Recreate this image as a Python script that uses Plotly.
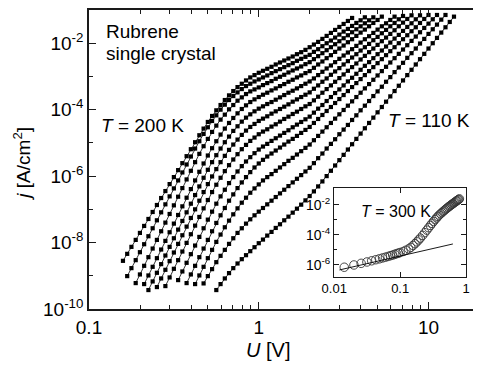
import plotly.graph_objects as go

# ---------------- data ----------------
# applied voltage grid (V), measurement points
U_grid = [0.1585, 0.1679, 0.1778, 0.1884, 0.1995, 0.2113, 0.2239, 0.2371, 0.2512, 0.2661,
          0.2818, 0.2985, 0.3162, 0.3350, 0.3548, 0.3758, 0.3981, 0.4217, 0.4467, 0.4732,
          0.5012, 0.5309, 0.5623, 0.5957, 0.6310, 0.6683, 0.7079, 0.7499, 0.7943, 0.8414,
          0.8913, 0.9441, 1.000, 1.059, 1.122, 1.189, 1.259, 1.334, 1.413, 1.496,
          1.585, 1.679, 1.778, 1.884, 1.995, 2.113, 2.239, 2.371, 2.512, 2.661,
          2.818, 2.985, 3.162, 3.350, 3.548, 3.758, 3.981, 4.217, 4.467, 4.732,
          5.012, 5.309, 5.623, 5.957, 6.310, 6.683, 7.079, 7.499, 7.943, 8.414,
          8.913, 9.441, 10.00, 10.59, 11.22, 11.89, 12.59, 13.34, 14.13, 14.96]

curve_names = ["200 K", "190 K", "180 K", "170 K", "160 K", "150 K",
               "145 K", "140 K", "130 K", "125 K", "120 K", "110 K"]
start_index = [0, 1, 3, 5, 6, 8, 10, 13, 15, 17, 19, 22]

# log10 of current density j [A/cm^2], one list per temperature (200 K ... 110 K)
log10_j_c1 = [-8.55, -8.34, -8.13, -7.92, -7.71, -7.50, -7.29, -7.08, -6.87, -6.66, -6.45, -6.24, -6.03, -5.82,
              -5.61, -5.40, -5.19, -4.98, -4.77, -4.57, -4.37, -4.19, -4.02, -3.86, -3.71, -3.57, -3.44, -3.32,
              -3.22, -3.12, -3.03, -2.96, -2.89, -2.83, -2.77, -2.71, -2.64, -2.58, -2.52, -2.46, -2.40, -2.33,
              -2.27, -2.20, -2.12, -2.04, -1.96, -1.87, -1.78, -1.69, -1.60, -1.51, -1.42, -1.33, -1.24]
log10_j_c2 = [-9.01, -8.77, -8.53, -8.29, -8.05, -7.81, -7.57, -7.33, -7.09, -6.85, -6.61, -6.37, -6.13, -5.89,
              -5.65, -5.41, -5.17, -4.95, -4.73, -4.53, -4.34, -4.17, -4.00, -3.85, -3.71, -3.59, -3.48, -3.38,
              -3.29, -3.22, -3.15, -3.09, -3.03, -2.97, -2.90, -2.84, -2.78, -2.72, -2.66, -2.60, -2.53, -2.47,
              -2.41, -2.35, -2.26, -2.18, -2.09, -2.00, -1.92, -1.83, -1.74, -1.65, -1.57, -1.48, -1.39, -1.31, -1.22]
log10_j_c3 = [-9.22, -8.96, -8.70, -8.44, -8.18, -7.92, -7.66, -7.40, -7.14, -6.88, -6.62, -6.36, -6.10, -5.84,
              -5.58, -5.33, -5.10, -4.88, -4.67, -4.48, -4.30, -4.15, -3.99, -3.86, -3.73, -3.63, -3.53, -3.45,
              -3.39, -3.33, -3.26, -3.20, -3.14, -3.07, -3.01, -2.95, -2.88, -2.82, -2.76, -2.70, -2.63, -2.57,
              -2.48, -2.39, -2.30, -2.21, -2.12, -2.03, -1.94, -1.85, -1.76, -1.67, -1.58, -1.49, -1.40, -1.31, -1.22]
log10_j_c4 = [-9.25, -8.99, -8.73, -8.47, -8.21, -7.95, -7.69, -7.43, -7.17, -6.91, -6.65, -6.39, -6.13, -5.87,
              -5.62, -5.38, -5.16, -4.95, -4.75, -4.57, -4.40, -4.25, -4.11, -3.98, -3.87, -3.77, -3.69, -3.62,
              -3.55, -3.49, -3.42, -3.36, -3.29, -3.23, -3.16, -3.10, -3.03, -2.97, -2.90, -2.84, -2.74, -2.64,
              -2.55, -2.45, -2.36, -2.26, -2.16, -2.07, -1.97, -1.88, -1.78, -1.68, -1.59, -1.49, -1.39, -1.30, -1.20]
log10_j_c5 = [-9.43, -9.17, -8.91, -8.65, -8.39, -8.13, -7.87, -7.61, -7.35, -7.09, -6.83, -6.57, -6.31, -6.05,
              -5.81, -5.58, -5.37, -5.17, -4.98, -4.81, -4.64, -4.50, -4.36, -4.24, -4.14, -4.05, -3.97, -3.90,
              -3.83, -3.77, -3.70, -3.63, -3.56, -3.49, -3.43, -3.36, -3.29, -3.22, -3.15, -3.06, -2.96, -2.86,
              -2.76, -2.67, -2.57, -2.47, -2.37, -2.28, -2.18, -2.08, -1.98, -1.88, -1.79, -1.69, -1.59, -1.49,
              -1.40, -1.30, -1.20]
log10_j_c6 = [-9.34, -9.08, -8.82, -8.56, -8.30, -8.04, -7.78, -7.52, -7.26, -7.00, -6.74, -6.48, -6.24, -6.01,
              -5.79, -5.58, -5.39, -5.21, -5.05, -4.90, -4.76, -4.63, -4.52, -4.43, -4.34, -4.27, -4.20, -4.12,
              -4.05, -3.98, -3.91, -3.84, -3.76, -3.69, -3.62, -3.55, -3.48, -3.37, -3.27, -3.16, -3.06, -2.95,
              -2.85, -2.75, -2.64, -2.54, -2.43, -2.33, -2.22, -2.12, -2.02, -1.91, -1.81, -1.70, -1.60, -1.49,
              -1.39, -1.28, -1.18]
log10_j_c7 = [-9.31, -9.05, -8.79, -8.53, -8.27, -8.01, -7.75, -7.49, -7.23, -6.97, -6.72, -6.48, -6.26, -6.05,
              -5.85, -5.67, -5.50, -5.34, -5.19, -5.06, -4.94, -4.84, -4.74, -4.66, -4.59, -4.51, -4.44, -4.36,
              -4.28, -4.21, -4.13, -4.06, -3.98, -3.90, -3.83, -3.72, -3.61, -3.49, -3.38, -3.27, -3.16, -3.05,
              -2.94, -2.83, -2.72, -2.61, -2.49, -2.38, -2.27, -2.16, -2.05, -1.94, -1.83, -1.72, -1.61, -1.49,
              -1.38, -1.27, -1.16]
log10_j_c8 = [-9.13, -8.87, -8.61, -8.35, -8.09, -7.83, -7.57, -7.31, -7.07, -6.83, -6.61, -6.41, -6.21, -6.03,
              -5.86, -5.70, -5.56, -5.43, -5.31, -5.20, -5.11, -5.03, -4.94, -4.86, -4.78, -4.70, -4.62, -4.53,
              -4.45, -4.37, -4.29, -4.21, -4.09, -3.97, -3.86, -3.74, -3.62, -3.50, -3.39, -3.27, -3.15, -3.04,
              -2.92, -2.80, -2.68, -2.57, -2.45, -2.33, -2.22, -2.10, -1.98, -1.86, -1.75, -1.63, -1.51, -1.40,
              -1.28, -1.16]
log10_j_c9 = [-9.22, -8.96, -8.70, -8.44, -8.18, -7.92, -7.66, -7.41, -7.18, -6.96, -6.74, -6.55, -6.36, -6.19,
              -6.03, -5.88, -5.74, -5.62, -5.51, -5.41, -5.32, -5.23, -5.14, -5.05, -4.96, -4.88, -4.79, -4.70,
              -4.61, -4.52, -4.40, -4.28, -4.16, -4.04, -3.92, -3.80, -3.68, -3.56, -3.44, -3.32, -3.20, -3.08,
              -2.96, -2.84, -2.72, -2.60, -2.48, -2.36, -2.24, -2.12, -2.00, -1.88, -1.76, -1.64, -1.52, -1.39,
              -1.27, -1.15]
log10_j_c10 = [-9.25, -8.99, -8.73, -8.47, -8.22, -7.98, -7.76, -7.54, -7.34, -7.15, -6.97, -6.80, -6.65, -6.50,
               -6.37, -6.25, -6.13, -6.03, -5.94, -5.84, -5.74, -5.64, -5.54, -5.45, -5.35, -5.25, -5.15, -5.05,
               -4.92, -4.79, -4.66, -4.53, -4.40, -4.27, -4.14, -4.01, -3.88, -3.75, -3.62, -3.49, -3.36, -3.23,
               -3.10, -2.97, -2.84, -2.71, -2.58, -2.45, -2.32, -2.19, -2.06, -1.93, -1.80, -1.67, -1.54, -1.41,
               -1.28, -1.15]
log10_j_c11 = [-9.23, -9.01, -8.80, -8.59, -8.40, -8.22, -8.04, -7.87, -7.71, -7.57, -7.43, -7.30, -7.18, -7.07,
               -6.96, -6.85, -6.74, -6.63, -6.52, -6.41, -6.30, -6.19, -6.08, -5.97, -5.86, -5.75, -5.61, -5.46,
               -5.32, -5.17, -5.03, -4.89, -4.74, -4.60, -4.46, -4.31, -4.17, -4.02, -3.88, -3.74, -3.59, -3.45,
               -3.31, -3.16, -3.02, -2.87, -2.73, -2.59, -2.44, -2.30, -2.16, -2.01, -1.87, -1.72, -1.58, -1.44,
               -1.29, -1.15]
log10_j_c12 = [-9.43, -9.25, -9.08, -8.92, -8.77, -8.63, -8.50, -8.38, -8.26, -8.14, -8.02, -7.91, -7.79, -7.68,
               -7.56, -7.45, -7.33, -7.22, -7.10, -6.98, -6.86, -6.73, -6.60, -6.46, -6.31, -6.16, -6.00, -5.84,
               -5.68, -5.52, -5.36, -5.20, -5.04, -4.88, -4.72, -4.56, -4.40, -4.24, -4.08, -3.92, -3.76, -3.60,
               -3.44, -3.28, -3.12, -2.96, -2.80, -2.64, -2.48, -2.32, -2.16, -2.00, -1.84, -1.68, -1.52, -1.36, -1.20]

curves = [log10_j_c1, log10_j_c2, log10_j_c3, log10_j_c4, log10_j_c5, log10_j_c6,
          log10_j_c7, log10_j_c8, log10_j_c9, log10_j_c10, log10_j_c11, log10_j_c12]

# inset: T = 300 K
U_300K = [0.0142, 0.0199, 0.0256, 0.0313, 0.0370, 0.0427, 0.0484, 0.0541, 0.0598, 0.0655, 0.0712, 0.0769,
          0.0826, 0.0883, 0.0940, 0.0997, 0.111, 0.122, 0.134, 0.145, 0.157, 0.168, 0.179, 0.191, 0.202,
          0.219, 0.236, 0.253, 0.270, 0.287, 0.304, 0.321, 0.338, 0.356, 0.373, 0.390, 0.410, 0.430, 0.450,
          0.470, 0.490, 0.510, 0.530, 0.550, 0.570, 0.590, 0.610, 0.630, 0.650, 0.670, 0.690, 0.710, 0.730,
          0.750, 0.770, 0.790]
log10_j_300K = [-6.15, -6.00, -5.89, -5.80, -5.72, -5.65, -5.59, -5.53, -5.48, -5.43, -5.38, -5.34,
                -5.29, -5.25, -5.21, -5.17, -5.10, -5.02, -4.93, -4.83, -4.70, -4.58, -4.46, -4.33, -4.21,
                -4.03, -3.85, -3.68, -3.52, -3.37, -3.23, -3.10, -2.98, -2.87, -2.77, -2.68, -2.59, -2.51, -2.43,
                -2.36, -2.29, -2.23, -2.17, -2.11, -2.06, -2.01, -1.96, -1.92, -1.87, -1.83, -1.79, -1.75, -1.71,
                -1.67, -1.64, -1.60]
U_fit_300K = [0.012, 0.63]
log10_j_fit_300K = [-6.33, -4.60]

# tick labels
x_ticks = [0.1, 1, 10]
x_ticktext = ["0.1", "1", "10"]
x_minor = [0.2, 0.3, 0.4, 0.5, 0.6, 0.7, 0.8, 0.9, 2, 3, 4, 5, 6, 7, 8, 9]
y_ticks = [1e-10, 1e-8, 1e-6, 1e-4, 1e-2]
y_ticktext = ["10<sup>-10</sup>", "10<sup>-8</sup>", "10<sup>-6</sup>", "10<sup>-4</sup>", "10<sup>-2</sup>"]
y_minor = [1e-9, 1e-7, 1e-5, 1e-3]
inset_x_ticks = [0.01, 0.1, 1]
inset_x_ticktext = ["0.01", "0.1", "1"]
inset_y_ticks = [1e-6, 1e-4, 1e-2]
inset_y_ticktext = ["10<sup>-6</sup>", "10<sup>-4</sup>", "10<sup>-2</sup>"]
inset_y_minor = [1e-5, 1e-3]

# ---------------- figure ----------------
FONT = "Liberation Sans, Arial, Helvetica, sans-serif"
AX = "#1a1a1a"
# the page body has an 8 px margin, so the figure is sized to end at the window edge
PAGE_OFFSET = 8

fig = go.Figure()
for name, s, lj in zip(curve_names, start_index, curves):
    U = U_grid[s:s + len(lj)]
    fig.add_trace(go.Scatter(
        x=U, y=[10 ** v for v in lj], mode="lines+markers", name=name,
        line=dict(color="black", width=0.8),
        marker=dict(symbol="square", size=4.2, color="black", line=dict(width=0)),
        showlegend=False, hoverinfo="skip"))

fig.add_trace(go.Scatter(
    x=U_300K, y=[10 ** v for v in log10_j_300K], xaxis="x3", yaxis="y3", mode="markers",
    marker=dict(symbol="circle-open", size=8.5, color="#333", line=dict(width=0.9)),
    showlegend=False, hoverinfo="skip"))
fig.add_trace(go.Scatter(
    x=U_fit_300K, y=[10 ** v for v in log10_j_fit_300K], xaxis="x3", yaxis="y3", mode="lines",
    line=dict(color="black", width=0.9), showlegend=False, hoverinfo="skip"))

main_tick = dict(ticks="inside", tickcolor=AX, tickwidth=1.3, showgrid=False, zeroline=False)

fig.update_layout(
    width=481 - PAGE_OFFSET, height=365 - PAGE_OFFSET,
    margin=dict(l=89 - PAGE_OFFSET, r=0, t=10 - PAGE_OFFSET, b=365 - 309),
    paper_bgcolor="white", plot_bgcolor="white",
    showlegend=False,
    font=dict(family=FONT, size=19, color="black"),
    xaxis=dict(type="log", range=[-1, 1.2857], domain=[0, 1], anchor="y",
               showline=True, linecolor=AX, linewidth=1.6, mirror="allticks",
               tickmode="array", tickvals=x_ticks, ticktext=x_ticktext, ticklen=7,
               tickfont=dict(size=19, family=FONT, color="black"),
               minor=dict(tickmode="array", tickvals=x_minor, ticks="inside", ticklen=4,
                          tickwidth=1.2, tickcolor=AX, showgrid=False),
               **main_tick),
    yaxis=dict(type="log", range=[-10, -1], domain=[0, 1], anchor="x",
               showline=True, linecolor=AX, linewidth=1.6, mirror=False,
               tickmode="array", tickvals=y_ticks, ticktext=y_ticktext, ticklen=7,
               tickfont=dict(size=19, family=FONT, color="black"),
               minor=dict(tickmode="array", tickvals=y_minor, ticks="inside", ticklen=4,
                          tickwidth=1.2, tickcolor=AX, showgrid=False),
               **main_tick),
    yaxis2=dict(type="log", range=[-10, -1], overlaying="y", side="right", anchor="x",
                showline=False, showticklabels=False,
                tickmode="array", tickvals=y_ticks, ticklen=7,
                minor=dict(tickmode="array", tickvals=y_minor, ticks="inside", ticklen=4,
                           tickwidth=1.2, tickcolor=AX, showgrid=False),
                **main_tick),
    xaxis3=dict(type="log", range=[-2, 0], domain=[0.632, 0.972], anchor="y3",
                showline=True, linecolor=AX, linewidth=1.2, mirror="allticks",
                tickmode="array", tickvals=inset_x_ticks, ticktext=inset_x_ticktext, ticklen=5,
                tickfont=dict(size=13, family=FONT, color="black"),
                ticks="inside", tickcolor=AX, tickwidth=1, showgrid=False, zeroline=False),
    yaxis3=dict(type="log", range=[-6.78, -0.89], domain=[0.108, 0.404], anchor="x3",
                showline=True, linecolor=AX, linewidth=1.2, mirror="allticks",
                tickmode="array", tickvals=inset_y_ticks, ticktext=inset_y_ticktext, ticklen=5,
                tickfont=dict(size=14, family=FONT, color="black"),
                minor=dict(tickmode="array", tickvals=inset_y_minor, ticks="inside", ticklen=3,
                           tickwidth=1, tickcolor=AX, showgrid=False),
                ticks="inside", tickcolor=AX, tickwidth=1, showgrid=False, zeroline=False),
)

def px_x(px):
    return (px - 89) / 392.0

def px_y(py):
    return (309 - py) / 299.0

annos = [
    dict(text="Rubrene", x=px_x(104), y=px_y(32), xanchor="left", yanchor="middle", size=19),
    dict(text="single crystal", x=px_x(104), y=px_y(53), xanchor="left", yanchor="middle", size=19),
    dict(text="<i>T</i> = 200 K", x=px_x(99), y=px_y(126), xanchor="left", yanchor="middle", size=19),
    dict(text="<i>T</i> = 110 K", x=px_x(389), y=px_y(120), xanchor="left", yanchor="middle", size=19),
    dict(text="<i>T</i> = 300 K", x=px_x(362), y=px_y(211), xanchor="left", yanchor="middle", size=16),
    dict(text="<i>U</i> [V]", x=px_x(269.5), y=px_y(350), xanchor="center", yanchor="middle", size=20),
]
for a in annos:
    fig.add_annotation(text=a["text"], x=a["x"], y=a["y"], xref="paper", yref="paper",
                       xanchor=a["xanchor"], yanchor=a["yanchor"], showarrow=False,
                       font=dict(family=FONT, size=a["size"], color="black"))
fig.add_annotation(text="<i>j</i> [A/cm<sup>2</sup>]", x=px_x(21), y=px_y(164), xref="paper", yref="paper",
                   xanchor="center", yanchor="middle", showarrow=False, textangle=-90,
                   font=dict(family=FONT, size=19, color="black"))

fig.write_html("out.html")
